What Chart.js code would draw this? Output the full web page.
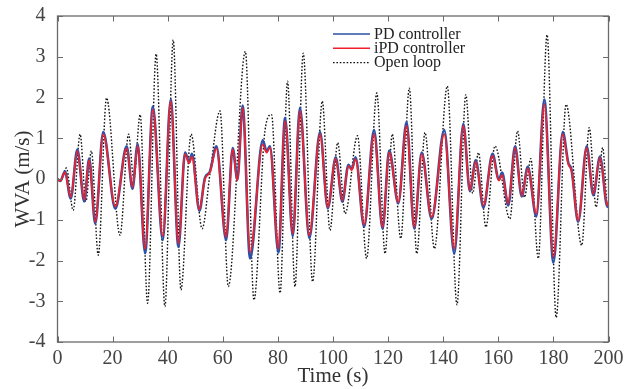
<!DOCTYPE html>
<html><head><meta charset="utf-8">
<script src="https://cdn.jsdelivr.net/npm/chart.js@4/dist/chart.umd.min.js"></script>
<style>html,body{margin:0;padding:0;background:#fff}#wrap{width:632px;height:389px}</style>
</head><body><div id="wrap"><canvas id="c" width="632" height="389"></canvas></div>
<script>
// ---- data (extrema and shoulders) ----
const controllerTime = [0,1.0,2.7,4.8,7.2,9.7,11.5,13.7,16.6,21.0,25.1,27.2,29.1,31.8,34.6,38.2,41.1,43.9,46.3,47.8,48.8,51.5,53.5,55.3,57.7,61.2,63.6,65.3,67.2,69.9,74.5,75.9,77.1,80.2,82.6,85.4,88.0,91.4,95.3,98.1,101.0,103.4,105.6,106.8,108.2,111.3,114.9,118.0,120.4,123.7,126.7,129.5,132.2,135.8,140.4,144.0,147.3,149.7,151.8,154.6,157.9,160.2,161.4,163.6,166.1,168.5,170.7,173.8,176.7,180.0,183.4,185.4,186.6,189.0,192.1,194.5,196.9,199.6,200];
const pdValues = [0,-0.05,0.18,-0.48,0.72,-0.55,0.5,-1.1,1.15,-0.73,0.8,-0.24,0.86,-1.82,1.78,-1.5,1.95,-1.67,0.65,0.41,0.62,-0.78,0.02,0.18,0.8,-1.5,0.76,-0.02,1.8,-1.95,0.95,0.68,0.8,-1.8,1.5,-1.4,1.75,-1.45,1.15,-0.72,0.53,-0.56,0.35,0.24,0.53,-1.17,1.2,-1.22,0.7,-0.6,1.4,-1.22,0.65,-0.98,1.2,-1.83,1.35,-0.3,0.46,-0.7,0.62,-0.02,0.16,-0.65,0.8,-0.43,0.3,-0.92,1.95,-2.05,1.15,0.4,0.22,-1.05,0.8,-0.4,0.55,-0.68,-0.58];
const ipdValues = [0,-0.05,0.16,-0.45,0.69,-0.51,0.46,-1.06,1.1,-0.67,0.75,-0.2,0.81,-1.71,1.71,-1.4,1.91,-1.59,0.61,0.39,0.55,-0.75,0.0,0.16,0.75,-1.42,0.73,-0.04,1.75,-1.8,0.85,0.65,0.77,-1.71,1.42,-1.34,1.67,-1.38,1.1,-0.69,0.5,-0.53,0.32,0.22,0.49,-1.12,1.1,-1.18,0.65,-0.57,1.3,-1.18,0.61,-0.94,1.1,-1.71,1.3,-0.28,0.43,-0.65,0.57,-0.04,0.1,-0.61,0.77,-0.41,0.26,-0.85,1.83,-1.91,1.1,0.37,0.2,-1.02,0.77,-0.37,0.53,-0.65,-0.55];
const openLoopTime = [0,1.0,3.2,5.7,8.2,10.3,12.3,14.8,17.8,22.7,25.8,27.7,30.0,32.7,35.8,39.0,42.0,44.8,48.5,52.5,55.4,59.0,62.0,68.2,71.3,75.3,77.7,80.8,83.5,86.2,89.2,92.6,96.1,98.9,101.7,104.4,108.9,112.2,115.9,118.9,121.5,124.6,127.7,130.4,133.4,136.8,141.5,145.0,148.2,150.7,152.8,155.5,158.8,164.2,167.0,169.5,171.8,174.5,177.7,181.0,184.6,190.3,193.0,195.5,197.9,199.7,200];
const openLoopValues = [0,-0.05,0.27,-0.77,1.1,-0.55,0.69,-1.87,1.99,-1.38,1.1,0.0,1.58,-3.05,3.07,-3.13,3.41,-2.72,1.1,-1.22,0.16,1.67,-2.64,3.13,-2.97,1.18,1.58,-2.8,2.4,-2.64,3.09,-2.52,1.91,-1.26,0.89,-0.85,1.06,-1.95,2.11,-1.83,1.1,-1.46,2.23,-1.83,1.14,-1.71,2.28,-3.09,2.07,-0.35,0.65,-1.18,0.81,-0.98,1.18,-0.45,0.5,-1.95,3.54,-3.4,1.83,-1.63,1.26,-0.69,0.77,-0.69,-0.6];
const xTickValues = [0,20,40,60,80,100,120,140,160,180,200];
const yTickValues = [-4,-3,-2,-1,0,1,2,3,4];
const seriesLabels = ['PD controller','iPD controller','Open loop'];
const axisTitles = {x:'Time (s)', y:'WVA (m/s)'};

const FONT = "'Liberation Serif','DejaVu Serif',serif";
const AXIS = '#6a6a6a';

function pts(xs, ys){ return xs.map((x,i)=>({x:x, y:ys[i]})); }

const framePlugin = {
  id:'frame',
  afterDraw(chart){
    const {ctx, chartArea:a, scales:{x, y}} = chart;
    ctx.save();
    ctx.strokeStyle = AXIS; ctx.lineWidth = 1.3;
    ctx.strokeRect(a.left, a.top, a.right-a.left, a.bottom-a.top);
    ctx.lineWidth = 1;
    const L = 5.5;
    ctx.beginPath();
    xTickValues.forEach(v=>{ const p = Math.round(x.getPixelForValue(v))+0.5;
      ctx.moveTo(p,a.bottom); ctx.lineTo(p,a.bottom-L); ctx.moveTo(p,a.top); ctx.lineTo(p,a.top+L); });
    yTickValues.forEach(v=>{ const p = Math.round(y.getPixelForValue(v))+0.5;
      ctx.moveTo(a.left,p); ctx.lineTo(a.left+L,p); ctx.moveTo(a.right,p); ctx.lineTo(a.right-L,p); });
    ctx.stroke();
    // legend
    const lx0 = 333, lx1 = 370, tx = 374, ly = [34, 48.3, 62.7];
    chart.data.datasets.forEach((ds, i)=>{
      ctx.beginPath();
      ctx.strokeStyle = ds.borderColor; ctx.lineWidth = i===2 ? 1.3 : 1.6;
      ctx.setLineDash(ds.borderDash || []);
      ctx.moveTo(lx0, ly[i]); ctx.lineTo(lx1, ly[i]); ctx.stroke();
      ctx.setLineDash([]);
      ctx.fillStyle = '#222'; ctx.font = "16px " + FONT; ctx.textBaseline = 'middle'; ctx.textAlign='left';
      ctx.fillText(ds.label, tx, ly[i]+0.5);
    });
    ctx.restore();
  }
};

new Chart(document.getElementById('c'), {
  type:'line',
  data:{ datasets:[
    {label:seriesLabels[0], data:pts(controllerTime,pdValues), borderColor:'#2a52a8', borderWidth:2.6, pointRadius:0, cubicInterpolationMode:'monotone', order:1},
    {label:seriesLabels[1], data:pts(controllerTime,ipdValues), borderColor:'#f0212b', borderWidth:1.8, pointRadius:0, cubicInterpolationMode:'monotone', order:0},
    {label:seriesLabels[2], data:pts(openLoopTime,openLoopValues), borderColor:'#111', borderWidth:1.4, borderDash:[1.6,1.8], pointRadius:0, cubicInterpolationMode:'monotone', order:2}
  ]},
  options:{
    responsive:false, animation:false, devicePixelRatio:1,
    layout:{padding:{left:0, right:23.5, top:14, bottom:0}},
    plugins:{legend:{display:false}, tooltip:{enabled:false}},
    scales:{
      x:{type:'linear', min:0, max:200,
         afterBuildTicks(s){ s.ticks = xTickValues.map(v=>({value:v})); },
         afterFit(s){ s.height = 47; },
         grid:{display:false}, border:{display:false},
         ticks:{padding:-3, color:'#444', font:{family:FONT, size:20}, maxRotation:0, autoSkip:false},
         title:{display:true, text:axisTitles.x, color:'#333', font:{family:FONT, size:21}, padding:{top:0,bottom:0}}},
      y:{type:'linear', min:-4, max:4,
         afterBuildTicks(s){ s.ticks = yTickValues.map(v=>({value:v})); },
         afterFit(s){ s.width = 57.5; },
         grid:{display:false}, border:{display:false},
         ticks:{padding:4, color:'#444', font:{family:FONT, size:20}, autoSkip:false},
         title:{display:true, text:axisTitles.y, color:'#333', font:{family:FONT, size:21}, padding:{top:11,bottom:0}}}
    }
  },
  plugins:[framePlugin]
});
</script></body></html>
